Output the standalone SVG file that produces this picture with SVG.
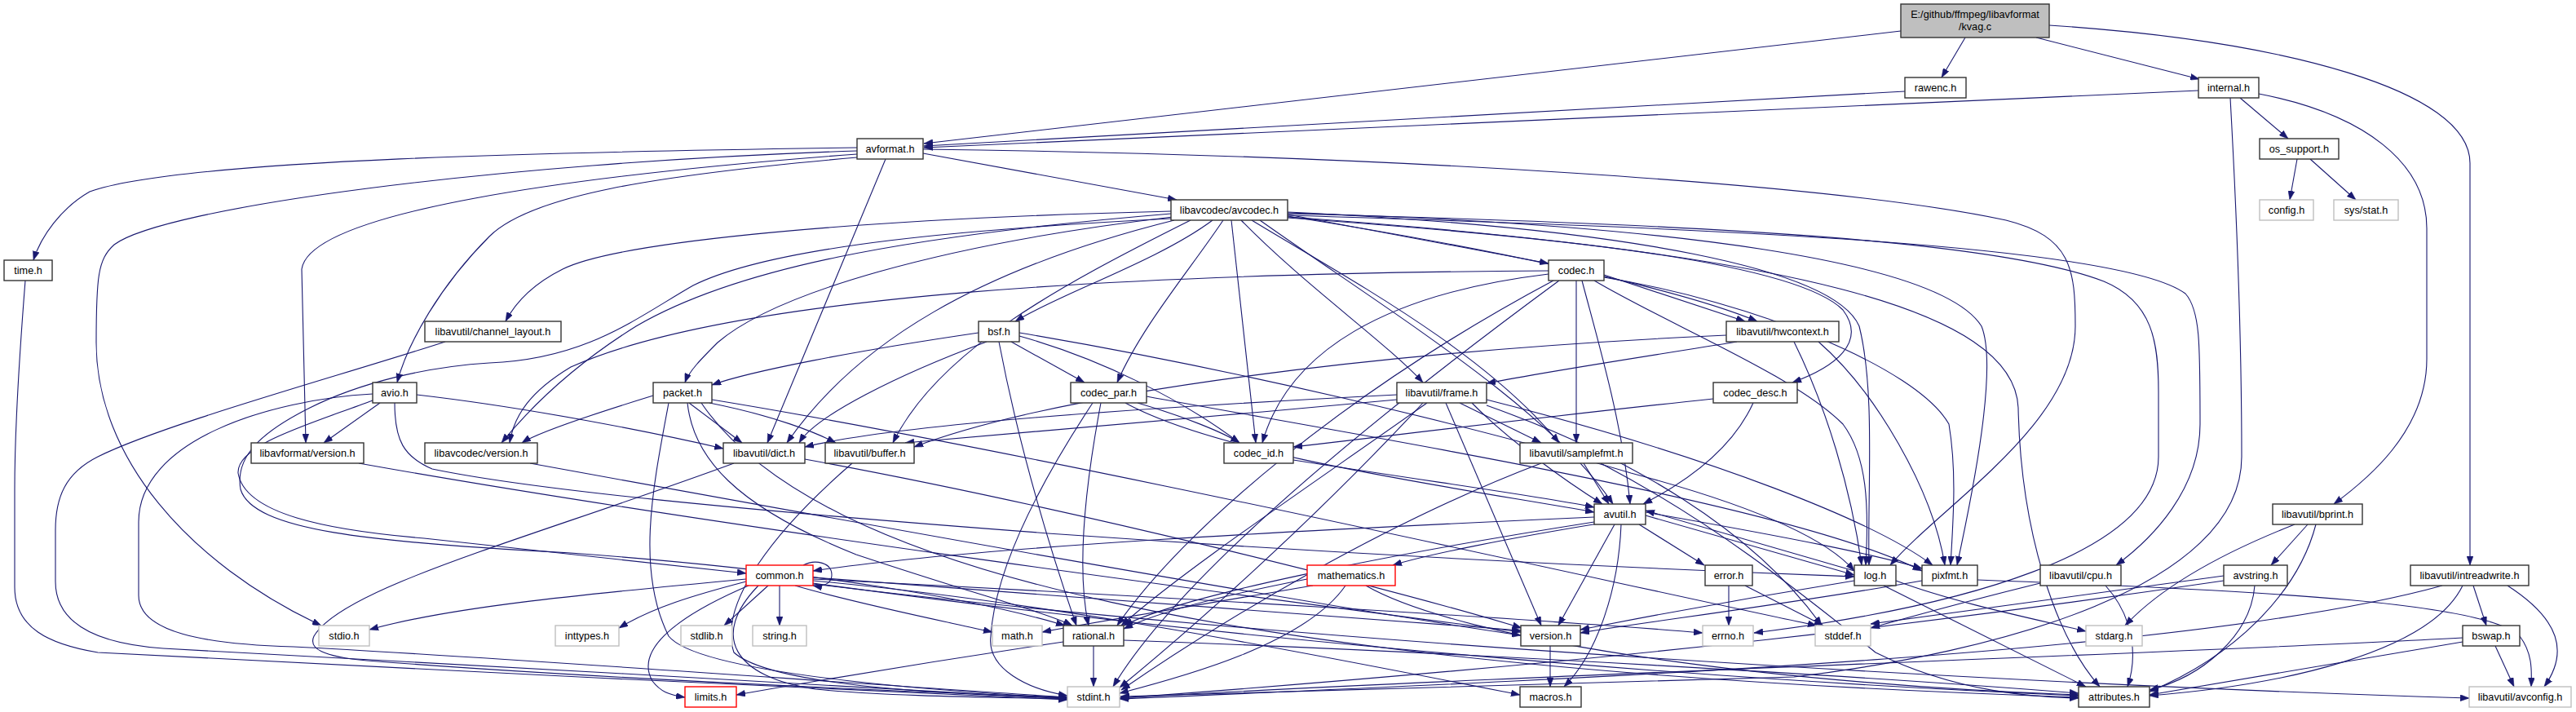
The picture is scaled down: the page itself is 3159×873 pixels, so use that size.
<svg xmlns="http://www.w3.org/2000/svg" width="3159" height="873" viewBox="0 0 3159 873">
<style>
.node rect{fill:#ffffff;stroke:#333333;stroke-width:1.4}
.node.g rect{stroke:#bfbfbf}
.node.r rect{stroke:#ff0000}
.node.root rect{fill:#bfbfbf}
.node text{font-family:"Liberation Sans",Arial,Helvetica,sans-serif;font-size:12.7px;text-anchor:middle;fill:#000000}
#edges path{fill:none;stroke:#191970;stroke-width:1.1;marker-end:url(#arr)}
</style>
<defs>
<marker id="arr" viewBox="0 0 11 8" refX="11" refY="4" markerWidth="11" markerHeight="8" markerUnits="userSpaceOnUse" orient="auto"><path d="M0,0L11,4L0,8z" fill="#191970" stroke="#191970" stroke-width="0.5"/></marker>
</defs>
<rect width="3159" height="873" fill="#ffffff"/>
<g id="edges">
<path d="M2331,38 L1133,176"/>
<path d="M2410,46 L2381,95"/>
<path d="M2497,46 L2697,97"/>
<path d="M2513,31 C2800,50 3029,110 3029,200 L3029,693"/>
<path d="M2336,112 L1133,179"/>
<path d="M2696,111 L1133,181"/>
<path d="M2747,120 L2806,170"/>
<path d="M2735,120 C2745,300 2749,450 2749,560 C2749,720 2450,800 2200,830 L1374,854"/>
<path d="M2770,115 C2900,140 2976,200 2976,280 L2976,440 C2976,530 2900,590 2862,618"/>
<path d="M2817,195 L2808,245"/>
<path d="M2833,195 L2889,245"/>
<path d="M1132,188 L1443,245"/>
<path d="M1051,181 C700,186 220,195 110,235 C75,255 50,290 41,319"/>
<path d="M1051,185 C600,200 200,255 140,300 C120,318 118,340 118,420 C118,560 230,690 394,767"/>
<path d="M1051,189 C700,215 380,260 370,330 L375,543"/>
<path d="M1051,193 C800,215 650,240 600,290 C540,350 500,420 487,469"/>
<path d="M1086,195 L941,543"/>
<path d="M1132,183 C1700,190 2250,225 2460,270 C2540,290 2545,330 2545,400 C2545,520 2380,620 2318,693"/>
<path d="M31,344 C25,420 18,520 18,600 L18,720 C18,770 60,790 120,800 C400,815 1000,845 1309,858"/>
<path d="M1436,259 C1000,270 750,300 690,330 C650,350 630,375 620,394"/>
<path d="M1436,262 C1100,290 900,330 780,400 C700,450 650,500 615,543"/>
<path d="M1438,266 C1150,300 950,360 880,420 C860,440 845,455 840,469"/>
<path d="M1440,270 C1200,330 1050,420 965,543"/>
<path d="M1460,270 C1300,350 1150,430 1095,543"/>
<path d="M1487,270 C1420,320 1300,360 1245,394"/>
<path d="M1500,270 C1460,330 1400,400 1370,469"/>
<path d="M1510,270 L1540,543"/>
<path d="M1522,270 C1600,350 1700,420 1745,469"/>
<path d="M1579,263 L1899,323"/>
<path d="M1545,270 C1700,380 1900,500 1978,618"/>
<path d="M1579,265 C1800,300 2050,350 2155,394"/>
<path d="M1579,267 C1900,290 2200,320 2260,380 C2290,420 2250,450 2198,469"/>
<path d="M1579,260 C2000,280 2250,330 2280,400 C2300,480 2290,600 2292,693"/>
<path d="M1579,261 C2050,275 2380,320 2430,400 C2450,450 2420,600 2400,693"/>
<path d="M1579,264 C2100,280 2600,300 2680,360 C2698,380 2698,420 2698,520 C2698,600 2640,660 2595,693"/>
<path d="M1436,268 C1200,280 950,300 850,350 C780,390 720,440 600,445 C520,450 440,470 380,500 C320,530 288,560 295,600 C310,650 450,665 700,678 C1000,700 1200,735 1306,767"/>
<path d="M1579,266 C2200,310 2470,380 2475,500 C2478,650 2520,780 2575,842"/>
<path d="M1579,262 C2100,275 2450,295 2580,345 C2640,370 2647,420 2647,480 L2647,560 C2647,680 2400,745 2151,776"/>
<path d="M1535,270 C1650,340 1820,430 1912,543"/>
<path d="M1899,332 C1400,335 900,360 700,450 C650,480 630,510 625,543"/>
<path d="M1899,336 C1700,360 1580,430 1548,543"/>
<path d="M1912,344 C1700,500 1450,700 1365,842"/>
<path d="M1905,344 C1650,480 1450,650 1370,767"/>
<path d="M1933,344 L1933,543"/>
<path d="M1940,344 C1960,420 1990,520 1999,618"/>
<path d="M1967,337 L2140,394"/>
<path d="M1955,344 C2050,400 2200,460 2260,520 C2290,560 2292,620 2288,693"/>
<path d="M1967,340 C2150,370 2350,450 2390,520 C2400,580 2395,640 2392,693"/>
<path d="M1200,408 C1050,430 920,455 873,472"/>
<path d="M1210,419 C1100,460 1000,510 980,543"/>
<path d="M1225,419 C1250,550 1290,680 1320,767"/>
<path d="M1240,419 L1330,469"/>
<path d="M1250,412 C1350,440 1450,490 1520,543"/>
<path d="M1250,408 C1500,450 1800,520 2000,580 C2150,620 2240,660 2274,700"/>
<path d="M2117,411 C1700,430 1300,480 1121,548"/>
<path d="M2130,419 C2000,440 1900,455 1823,470"/>
<path d="M2200,419 C2240,500 2270,600 2283,693"/>
<path d="M2230,419 C2300,480 2370,600 2385,693"/>
<path d="M2101,489 C1900,510 1700,535 1586,548"/>
<path d="M2150,494 C2120,560 2050,600 2015,618"/>
<path d="M1586,564 C1750,590 1900,610 1955,622"/>
<path d="M1395,494 C1450,510 1500,530 1520,543"/>
<path d="M1350,494 C1330,600 1320,700 1335,767"/>
<path d="M1340,494 C1270,600 1220,700 1215,780 C1210,820 1260,845 1309,853"/>
<path d="M1380,494 C1500,560 1800,600 1955,628"/>
<path d="M1406,486 C1700,540 2200,620 2357,700"/>
<path d="M801,485 C720,510 660,530 640,543"/>
<path d="M845,494 L910,543"/>
<path d="M870,494 C950,510 1000,530 1025,543"/>
<path d="M820,494 C800,600 780,700 820,780 C860,830 1200,850 1309,856"/>
<path d="M843,494 C850,560 900,620 1050,680 C1200,730 1280,750 1315,767"/>
<path d="M873,490 C1300,560 2000,720 2228,767"/>
<path d="M860,494 C1000,700 1500,820 2549,855"/>
<path d="M466,494 L397,543"/>
<path d="M511,484 C650,500 800,530 887,550"/>
<path d="M457,491 C380,520 290,545 292,580 C300,630 400,650 520,660 C700,680 850,695 915,703"/>
<path d="M484,494 C484,540 495,560 530,575 C650,600 900,625 1300,655 C1800,690 2150,702 2274,707"/>
<path d="M457,483 C330,490 170,540 170,640 L170,730 C170,775 250,790 360,793 C600,805 1000,835 1309,855"/>
<path d="M440,568 C900,650 1600,740 1865,775"/>
<path d="M650,568 C1100,650 1600,740 1865,779"/>
<path d="M546,419 C420,460 200,520 120,560 C80,580 68,610 68,650 L68,713 C68,770 130,790 200,795 C500,810 1000,840 1309,857"/>
<path d="M987,563 C1300,620 1700,720 1866,770"/>
<path d="M900,568 C650,660 420,720 385,780 C378,795 395,805 450,810 C700,830 1100,848 1309,855"/>
<path d="M1045,568 C950,650 880,740 900,800 C950,845 1200,852 1309,856"/>
<path d="M1713,484 C1400,500 1100,520 987,548"/>
<path d="M1713,490 C1500,510 1250,530 1110,543"/>
<path d="M1790,494 L1890,543"/>
<path d="M1805,494 C1850,540 1920,590 1965,618"/>
<path d="M1773,494 L1890,767"/>
<path d="M1750,494 C1600,600 1450,700 1375,767"/>
<path d="M1745,494 C1600,650 1450,780 1373,843"/>
<path d="M1823,497 C2000,560 2150,650 2234,767"/>
<path d="M1823,490 C2100,560 2300,640 2370,693"/>
<path d="M1942,568 L1973,618"/>
<path d="M1890,568 C1700,640 1500,760 1375,846"/>
<path d="M1963,568 C2100,640 2200,720 2300,800 C2400,850 2500,855 2549,856"/>
<path d="M1955,634 C1600,650 1200,670 997,700"/>
<path d="M1960,642 C1850,660 1750,680 1708,693"/>
<path d="M1955,640 C1700,680 1450,730 1378,767"/>
<path d="M1980,643 L1911,767"/>
<path d="M1988,643 C1985,720 1960,800 1918,842"/>
<path d="M2010,643 L2090,693"/>
<path d="M2018,632 L2274,705"/>
<path d="M2018,628 C2200,660 2300,680 2357,697"/>
<path d="M2274,700 L2018,626"/>
<path d="M2274,712 C2100,740 2000,760 1938,772"/>
<path d="M2325,712 C2400,740 2500,760 2558,774"/>
<path d="M2310,718 L2558,842"/>
<path d="M2425,711 C2800,725 3050,740 3090,780 C3105,800 3105,820 3104,842"/>
<path d="M2357,712 C2200,740 2000,765 1938,776"/>
<path d="M2502,715 C2400,740 2330,760 2294,770"/>
<path d="M2582,718 C2620,760 2620,810 2609,842"/>
<path d="M2830,643 L2785,693"/>
<path d="M2814,643 C2720,680 2650,720 2606,767"/>
<path d="M2840,643 C2820,720 2750,800 2636,848"/>
<path d="M2727,706 C2550,730 2400,750 2294,765"/>
<path d="M2727,712 C2400,760 2000,810 1373,856"/>
<path d="M2765,718 C2760,780 2700,830 2636,846"/>
<path d="M3033,718 L3049,767"/>
<path d="M3075,718 C3140,760 3150,800 3120,842"/>
<path d="M3020,718 C2980,800 2800,840 2636,853"/>
<path d="M2995,718 C2700,800 2000,830 1373,857"/>
<path d="M3060,792 L3083,842"/>
<path d="M3020,787 C2850,815 2700,840 2636,852"/>
<path d="M3020,782 C2700,800 1800,830 1373,856"/>
<path d="M2120,718 L2120,767"/>
<path d="M2140,718 L2236,767"/>
<path d="M985,693 C1000,685 1020,690 1020,705 C1020,716 1008,720 997,718"/>
<path d="M942,718 L888,767"/>
<path d="M956,718 L956,767"/>
<path d="M915,710 C700,730 550,745 453,772"/>
<path d="M915,713 C850,730 800,745 759,770"/>
<path d="M975,718 C1050,740 1150,760 1217,775"/>
<path d="M918,718 C820,760 780,800 800,835 C810,848 820,852 840,855"/>
<path d="M930,718 C870,780 900,830 1000,845 C1100,855 1250,855 1309,857"/>
<path d="M997,712 C1300,740 1600,800 1864,852"/>
<path d="M997,708 C1300,730 1600,755 1865,773"/>
<path d="M997,710 C1400,730 1900,760 2088,776"/>
<path d="M997,715 C1400,770 2000,830 2549,853"/>
<path d="M997,716 C1600,790 2500,840 3028,856"/>
<path d="M1603,710 C1500,730 1420,750 1378,771"/>
<path d="M1610,718 C1450,745 1330,765 1278,775"/>
<path d="M1650,718 C1600,790 1450,830 1373,850"/>
<path d="M1675,718 C1800,790 2200,840 2549,852"/>
<path d="M1341,792 L1341,842"/>
<path d="M1304,787 C1150,810 1000,835 903,852"/>
<path d="M1378,785 C1800,800 2300,830 2549,850"/>
<path d="M1901,792 L1901,842"/>
</g>
<g id="kvag" class="node root"><rect x="2331" y="5" width="182" height="41"/><text x="2422" y="21.5">E:/github/ffmpeg/libavformat</text><text x="2422" y="37">/kvag.c</text></g>
<g id="rawenc" class="node"><rect x="2336" y="95" width="75" height="25"/><text x="2373.5" y="112">rawenc.h</text></g>
<g id="internal" class="node"><rect x="2696" y="95" width="74" height="25"/><text x="2733" y="112">internal.h</text></g>
<g id="avformat" class="node"><rect x="1051" y="170" width="81" height="25"/><text x="1091.5" y="187">avformat.h</text></g>
<g id="os_support" class="node"><rect x="2771" y="170" width="97" height="25"/><text x="2819.5" y="187">os_support.h</text></g>
<g id="avcodec" class="node"><rect x="1436" y="245" width="143" height="25"/><text x="1507.5" y="262">libavcodec/avcodec.h</text></g>
<g id="config" class="node g"><rect x="2771" y="245" width="66" height="25"/><text x="2804" y="262">config.h</text></g>
<g id="sysstat" class="node g"><rect x="2862" y="245" width="79" height="25"/><text x="2901.5" y="262">sys/stat.h</text></g>
<g id="time" class="node"><rect x="5" y="319" width="59" height="25"/><text x="34.5" y="336">time.h</text></g>
<g id="codec" class="node"><rect x="1899" y="319" width="68" height="25"/><text x="1933" y="336">codec.h</text></g>
<g id="channel_layout" class="node"><rect x="521" y="394" width="167" height="25"/><text x="604.5" y="411">libavutil/channel_layout.h</text></g>
<g id="bsf" class="node"><rect x="1200" y="394" width="50" height="25"/><text x="1225" y="411">bsf.h</text></g>
<g id="hwcontext" class="node"><rect x="2117" y="394" width="138" height="25"/><text x="2186" y="411">libavutil/hwcontext.h</text></g>
<g id="avio" class="node"><rect x="457" y="469" width="54" height="25"/><text x="484" y="486">avio.h</text></g>
<g id="packet" class="node"><rect x="801" y="469" width="72" height="25"/><text x="837" y="486">packet.h</text></g>
<g id="codec_par" class="node"><rect x="1313" y="469" width="93" height="25"/><text x="1359.5" y="486">codec_par.h</text></g>
<g id="frame" class="node"><rect x="1713" y="469" width="110" height="25"/><text x="1768" y="486">libavutil/frame.h</text></g>
<g id="codec_desc" class="node"><rect x="2101" y="469" width="103" height="25"/><text x="2152.5" y="486">codec_desc.h</text></g>
<g id="lavf_version" class="node"><rect x="308" y="543" width="138" height="25"/><text x="377" y="560">libavformat/version.h</text></g>
<g id="lavc_version" class="node"><rect x="521" y="543" width="138" height="25"/><text x="590" y="560">libavcodec/version.h</text></g>
<g id="dict" class="node"><rect x="887" y="543" width="100" height="25"/><text x="937" y="560">libavutil/dict.h</text></g>
<g id="buffer" class="node"><rect x="1012" y="543" width="109" height="25"/><text x="1066.5" y="560">libavutil/buffer.h</text></g>
<g id="codec_id" class="node"><rect x="1501" y="543" width="85" height="25"/><text x="1543.5" y="560">codec_id.h</text></g>
<g id="samplefmt" class="node"><rect x="1864" y="543" width="138" height="25"/><text x="1933" y="560">libavutil/samplefmt.h</text></g>
<g id="avutil" class="node"><rect x="1955" y="618" width="63" height="25"/><text x="1986.5" y="635">avutil.h</text></g>
<g id="bprint" class="node"><rect x="2787" y="618" width="110" height="25"/><text x="2842" y="635">libavutil/bprint.h</text></g>
<g id="common" class="node r"><rect x="915" y="693" width="82" height="25"/><text x="956" y="710">common.h</text></g>
<g id="mathematics" class="node r"><rect x="1603" y="693" width="108" height="25"/><text x="1657" y="710">mathematics.h</text></g>
<g id="error" class="node"><rect x="2091" y="693" width="58" height="25"/><text x="2120" y="710">error.h</text></g>
<g id="log" class="node"><rect x="2274" y="693" width="51" height="25"/><text x="2299.5" y="710">log.h</text></g>
<g id="pixfmt" class="node"><rect x="2357" y="693" width="68" height="25"/><text x="2391" y="710">pixfmt.h</text></g>
<g id="cpu" class="node"><rect x="2502" y="693" width="99" height="25"/><text x="2551.5" y="710">libavutil/cpu.h</text></g>
<g id="avstring" class="node"><rect x="2727" y="693" width="78" height="25"/><text x="2766" y="710">avstring.h</text></g>
<g id="intreadwrite" class="node"><rect x="2956" y="693" width="145" height="25"/><text x="3028.5" y="710">libavutil/intreadwrite.h</text></g>
<g id="stdio" class="node g"><rect x="391" y="767" width="62" height="25"/><text x="422" y="784">stdio.h</text></g>
<g id="inttypes" class="node g"><rect x="681" y="767" width="78" height="25"/><text x="720" y="784">inttypes.h</text></g>
<g id="stdlib" class="node g"><rect x="835" y="767" width="63" height="25"/><text x="866.5" y="784">stdlib.h</text></g>
<g id="string" class="node g"><rect x="923" y="767" width="66" height="25"/><text x="956" y="784">string.h</text></g>
<g id="math" class="node g"><rect x="1217" y="767" width="61" height="25"/><text x="1247.5" y="784">math.h</text></g>
<g id="rational" class="node"><rect x="1304" y="767" width="74" height="25"/><text x="1341" y="784">rational.h</text></g>
<g id="version" class="node"><rect x="1865" y="767" width="73" height="25"/><text x="1901.5" y="784">version.h</text></g>
<g id="errno" class="node g"><rect x="2088" y="767" width="62" height="25"/><text x="2119" y="784">errno.h</text></g>
<g id="stddef" class="node g"><rect x="2226" y="767" width="68" height="25"/><text x="2260" y="784">stddef.h</text></g>
<g id="stdarg" class="node g"><rect x="2558" y="767" width="69" height="25"/><text x="2592.5" y="784">stdarg.h</text></g>
<g id="bswap" class="node"><rect x="3020" y="767" width="70" height="25"/><text x="3055" y="784">bswap.h</text></g>
<g id="limits" class="node r"><rect x="840" y="842" width="63" height="25"/><text x="871.5" y="859">limits.h</text></g>
<g id="stdint" class="node g"><rect x="1309" y="842" width="64" height="25"/><text x="1341" y="859">stdint.h</text></g>
<g id="macros" class="node"><rect x="1864" y="842" width="75" height="25"/><text x="1901.5" y="859">macros.h</text></g>
<g id="attributes" class="node"><rect x="2549" y="842" width="87" height="25"/><text x="2592.5" y="859">attributes.h</text></g>
<g id="avconfig" class="node g"><rect x="3028" y="842" width="125" height="25"/><text x="3090.5" y="859">libavutil/avconfig.h</text></g>
</svg>
